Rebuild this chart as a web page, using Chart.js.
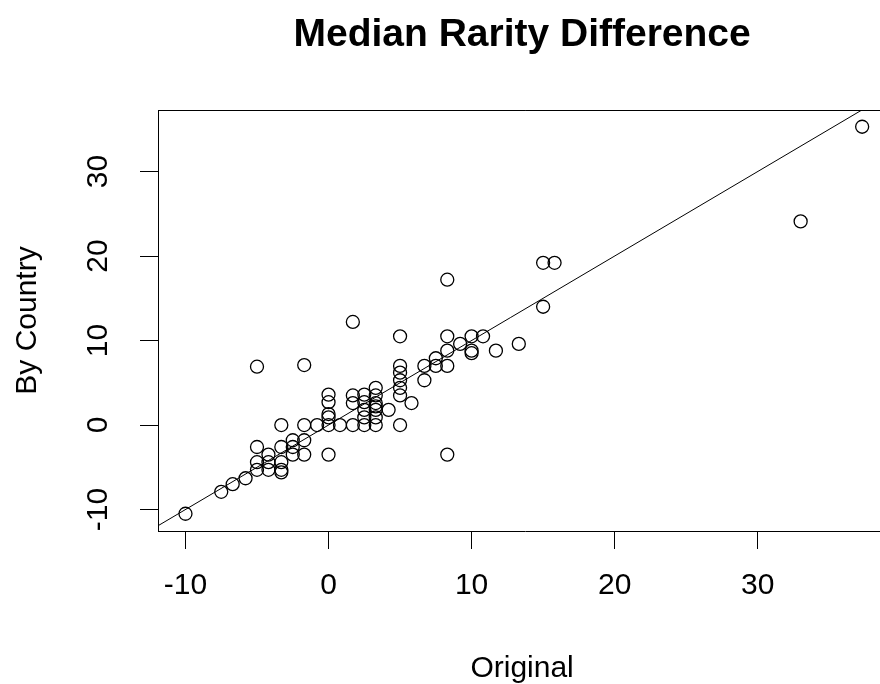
<!DOCTYPE html>
<html lang="en">
<head>
  <meta charset="UTF-8" />
  <title>Median Rarity Difference</title>
  <script src="https://cdn.jsdelivr.net/npm/chart.js"></script>
  <style>
    html, body { margin: 0; padding: 0; background: #fff; overflow: hidden; }
    canvas { display: block; }
  </style>
</head>
<body>
  <canvas id="plot" width="900" height="684"></canvas>

  <script>
    // values
    const original = [
      -10, -7.5, -6.7, -5.8, -5.0, -5.0, -5.0, -5.0, -4.2, -4.2,
      -4.2, -3.3, -3.3, -3.3, -3.3, -3.3, -2.5, -2.5, -2.5, -1.7,
      -1.7, -1.7, -1.7, -0.8, 0, 0, 0, 0, 0, 0,
      0.8, 1.7, 1.7, 1.7, 1.7, 2.5, 2.5, 2.5, 2.5, 2.5,
      3.3, 3.3, 3.3, 3.3, 3.3, 3.3, 3.3, 4.2, 5.0, 5.0,
      5.0, 5.0, 5.0, 5.0, 5.0, 5.8, 6.7, 6.7, 7.5, 7.5,
      8.3, 8.3, 8.3, 8.3, 8.3, 9.2, 10.0, 10.0, 10.0, 10.8,
      11.7, 13.3, 15.0, 15.0, 15.8, 33.0, 37.3
    ];
    const byCountry = [
      -10.5, -7.9, -7.0, -6.3, -5.3, -4.4, -2.6, 6.9, -5.3, -4.4,
      -3.5, -5.3, -5.6, -2.6, 0, -4.4, -3.5, -2.6, -1.8, -3.5,
      -1.8, 0, 7.1, 0, -3.5, 0, 0.9, 1.3, 2.7, 3.6,
      0, 0, 2.6, 3.5, 12.2, 0, 0.9, 1.8, 2.7, 3.6,
      0, 0.9, 1.8, 2.2, 2.6, 3.5, 4.4, 1.8, 0, 3.5,
      4.4, 5.3, 6.2, 7.0, 10.5, 2.6, 5.3, 7.0, 7.0, 7.9,
      -3.5, 7.0, 8.8, 10.5, 17.2, 9.6, 8.8, 8.5, 10.5, 10.5,
      8.8, 9.6, 14.0, 19.2, 19.2, 24.1, 35.3
    ];
    const refLineX = [-15, 45];   // y = x reference line
    const xTicks = [-10, 0, 10, 20, 30];
    const yTicks = [-10, 0, 10, 20, 30];

    const FONT = "'Liberation Sans', Arial, sans-serif";

    const points = original.map((x, i) => ({ x: x, y: byCountry[i] }));
    const line = refLineX.map(v => ({ x: v, y: v }));

    // title, tick labels and axis names drawn R-style
    const textPlugin = {
      id: "rText",
      afterDraw(chart) {
        const ctx = chart.ctx;
        const area = chart.chartArea;
        const xs = chart.scales.x;
        const ys = chart.scales.y;
        ctx.save();

        // top border of the box
        ctx.strokeStyle = "#000";
        ctx.lineWidth = 1;
        ctx.beginPath();
        ctx.moveTo(area.left, area.top + 0.5);
        ctx.lineTo(area.right, area.top + 0.5);
        ctx.stroke();

        ctx.fillStyle = "#000";
        ctx.textAlign = "center";
        ctx.textBaseline = "alphabetic";
        const midX = (area.left + area.right) / 2;

        ctx.font = "bold 39px " + FONT;
        ctx.fillText("Median Rarity Difference", midX - 3, 46);

        ctx.font = "30px " + FONT;
        xTicks.forEach(v => ctx.fillText(String(v), xs.getPixelForValue(v), 594));
        ctx.fillText("Original", midX - 3, 677);

        yTicks.forEach(v => {
          ctx.save();
          ctx.translate(107, ys.getPixelForValue(v));
          ctx.rotate(-Math.PI / 2);
          ctx.fillText(String(v), 0, 0);
          ctx.restore();
        });

        ctx.save();
        ctx.translate(36, (area.top + area.bottom) / 2);
        ctx.rotate(-Math.PI / 2);
        ctx.fillText("By Country", 0, 0);
        ctx.restore();

        ctx.restore();
      }
    };

    new Chart(document.getElementById("plot"), {
      data: {
        datasets: [
          {
            type: "scatter",
            data: points,
            pointStyle: "circle",
            pointRadius: 6.5,
            pointBorderWidth: 1.3,
            pointBorderColor: "#000",
            pointBackgroundColor: "rgba(0,0,0,0)"
          },
          {
            type: "line",
            data: line,
            borderColor: "#000",
            borderWidth: 1,
            pointRadius: 0,
            fill: false
          }
        ]
      },
      options: {
        responsive: false,
        animation: false,
        events: [],
        layout: { padding: { top: 110, right: 7, left: 0, bottom: 0 } },
        plugins: { legend: { display: false }, title: { display: false }, tooltip: { enabled: false } },
        scales: {
          x: {
            type: "linear",
            min: -11.92,
            max: 39.4,
            afterBuildTicks: s => { s.ticks = xTicks.map(v => ({ value: v })); },
            afterFit: s => { s.height = 153; },
            ticks: { display: false },
            grid: { drawOnChartArea: false, drawTicks: true, tickLength: 18, tickColor: "#000", tickWidth: 1 },
            border: { display: true, color: "#000", width: 1 }
          },
          y: {
            type: "linear",
            min: -12.54,
            max: 37.28,
            afterBuildTicks: s => { s.ticks = yTicks.map(v => ({ value: v })); },
            afterFit: s => { s.width = 158; },
            ticks: { display: false },
            grid: { drawOnChartArea: false, drawTicks: true, tickLength: 18, tickColor: "#000", tickWidth: 1 },
            border: { display: true, color: "#000", width: 1 }
          }
        }
      },
      plugins: [textPlugin]
    });
  </script>
</body>
</html>
